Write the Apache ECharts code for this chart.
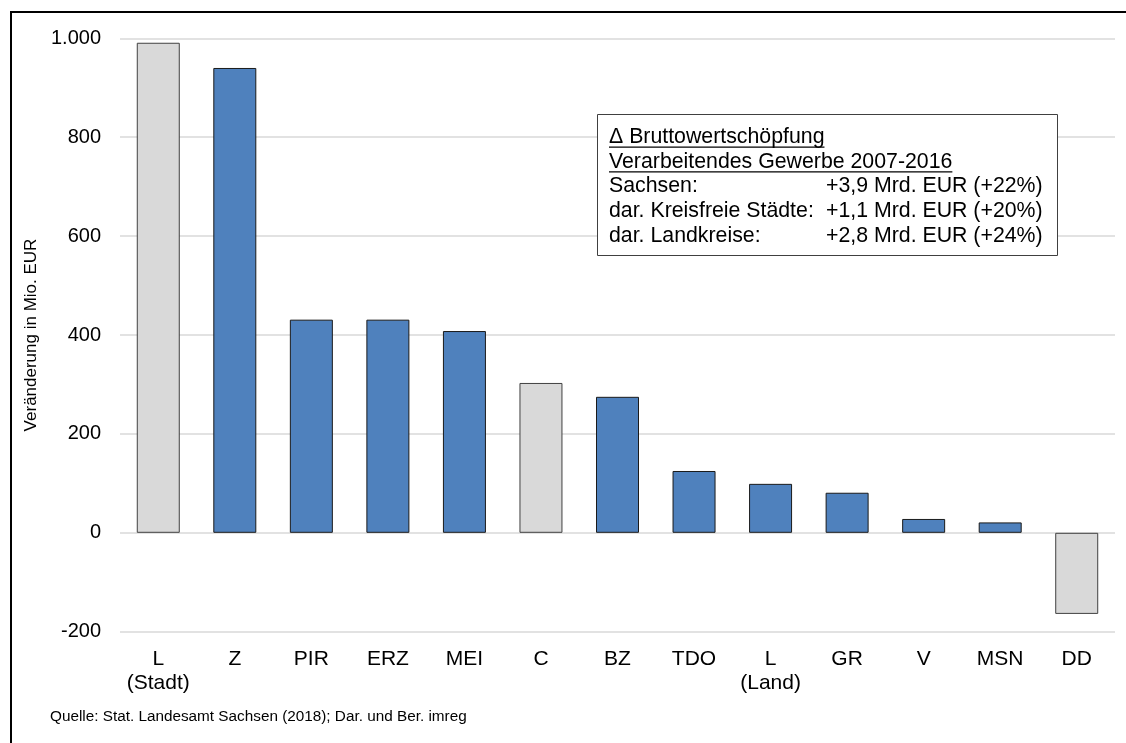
<!DOCTYPE html>
<html>
<head>
<meta charset="utf-8">
<script src="https://cdn.jsdelivr.net/npm/echarts@6/dist/echarts.min.js"></script>
<style>
  html, body { margin: 0; padding: 0; background: #fff; }
  #chart { width: 1126px; height: 743px; }
</style>
</head>
<body>
<div id="chart"></div>
<script>
// Kreise / kreisfreie Städte in Sachsen
const categories = ["L\n(Stadt)", "Z", "PIR", "ERZ", "MEI", "C", "BZ", "TDO", "L\n(Land)", "GR", "V", "MSN", "DD"];
// Veränderung Bruttowertschöpfung in Mio. EUR
const values = [991, 940, 431, 431, 408, 303, 275, 125, 99, 81, 28, 21, -164];
// kreisfreie Stadt -> grau
const isCity = [true, false, false, false, false, true, false, false, false, false, false, false, true];
const yTicks = [-200, 0, 200, 400, 600, 800, 1000];

const boxTitle = ["\u0394 Bruttowertschöpfung", "Verarbeitendes Gewerbe 2007-2016"];
const boxLabels = ["Sachsen:", "dar. Kreisfreie Städte:", "dar. Landkreise:"];
const boxValues = ["+3,9 Mrd. EUR (+22%)", "+1,1 Mrd. EUR (+20%)", "+2,8 Mrd. EUR (+24%)"];
const sourceText = "Quelle: Stat. Landesamt Sachsen (2018); Dar. und Ber. imreg";

const FONT = "'Liberation Sans', Arial, sans-serif";

function fmtDe(v) {
  const s = String(Math.abs(v)).replace(/\B(?=(\d{3})+(?!\d))/g, ".");
  return (v < 0 ? "-" : "") + s;
}

function textWidth(str, size) {
  const ctx = document.createElement("canvas").getContext("2d");
  ctx.font = size + "px " + FONT;
  return ctx.measureText(str).width;
}

const chart = echarts.init(document.getElementById("chart"));

// Textbox
const boxX = 597, boxY = 114, boxW = 460, boxH = 141;
const tx = 609, tx2 = 826, fs = 21.3;
const baselines = [143.6, 168.3, 193, 217.7, 242.4];
const boxEls = [
  {
    type: "rect",
    shape: { x: boxX + 0.5, y: boxY + 0.5, width: boxW, height: boxH },
    style: { fill: "#fff", stroke: "#404040", lineWidth: 1 },
    z: 10
  }
];
boxTitle.forEach((t, i) => {
  boxEls.push({
    type: "text", x: tx, y: baselines[i] - 6.6, z: 11,
    style: { text: t, font: fs + "px " + FONT, fill: "#000", verticalAlign: "middle", align: "left" }
  });
  const w = textWidth(t, fs);
  boxEls.push({
    type: "line", z: 11,
    shape: { x1: tx, y1: baselines[i] + 3.5, x2: tx + w, y2: baselines[i] + 3.5 },
    style: { stroke: "#000", lineWidth: 1.3 }
  });
});
boxLabels.forEach((t, i) => {
  boxEls.push({
    type: "text", x: tx, y: baselines[i + 2] - 6.6, z: 11,
    style: { text: t, font: fs + "px " + FONT, fill: "#000", verticalAlign: "middle", align: "left" }
  });
  boxEls.push({
    type: "text", x: tx2, y: baselines[i + 2] - 6.6, z: 11,
    style: { text: boxValues[i], font: fs + "px " + FONT, fill: "#000", verticalAlign: "middle", align: "left" }
  });
});

const option = {
  animation: false,
  backgroundColor: "#fff",
  textStyle: { fontFamily: FONT },
  grid: { left: 120, right: 11, top: 38.3, bottom: 111.3, containLabel: false },
  xAxis: {
    type: "category",
    data: categories,
    axisLine: { show: false, onZero: false },
    axisTick: { show: false },
    axisLabel: {
      color: "#000",
      fontSize: 21,
      lineHeight: 24,
      margin: 16,
      interval: 0,
      fontFamily: FONT
    }
  },
  yAxis: {
    type: "value",
    min: yTicks[0],
    max: yTicks[yTicks.length - 1],
    interval: 200,
    name: "Veränderung in Mio. EUR",
    nameLocation: "middle",
    nameRotate: 90,
    nameGap: 77,
    nameTextStyle: { color: "#000", fontSize: 17, fontFamily: FONT },
    axisLine: { show: false },
    axisTick: { show: false },
    axisLabel: {
      color: "#000",
      fontSize: 20,
      margin: 19,
      fontFamily: FONT,
      formatter: (v) => fmtDe(v)
    },
    splitLine: { lineStyle: { color: "#d9d9d9", width: 1.5 } }
  },
  series: [
    {
      type: "bar",
      barWidth: 43,
      data: values.map((v, i) => ({
        value: v,
        itemStyle: {
          color: isCity[i] ? "#d9d9d9" : "#4f81bd",
          borderColor: isCity[i] ? "#404040" : "#1a1a1a",
          borderWidth: 1
        }
      }))
    }
  ],
  graphic: [
    // Rahmen oben / links
    { type: "line", shape: { x1: 10, y1: 12, x2: 1126, y2: 12 }, style: { stroke: "#000", lineWidth: 2 }, z: 20 },
    { type: "line", shape: { x1: 11, y1: 11, x2: 11, y2: 743 }, style: { stroke: "#000", lineWidth: 2 }, z: 20 },
    {
      type: "text", x: 50, y: 717,
      style: { text: sourceText, font: "15.3px " + FONT, fill: "#000", verticalAlign: "middle", align: "left" }
    }
  ].concat(boxEls)
};

chart.setOption(option);
</script>
</body>
</html>
